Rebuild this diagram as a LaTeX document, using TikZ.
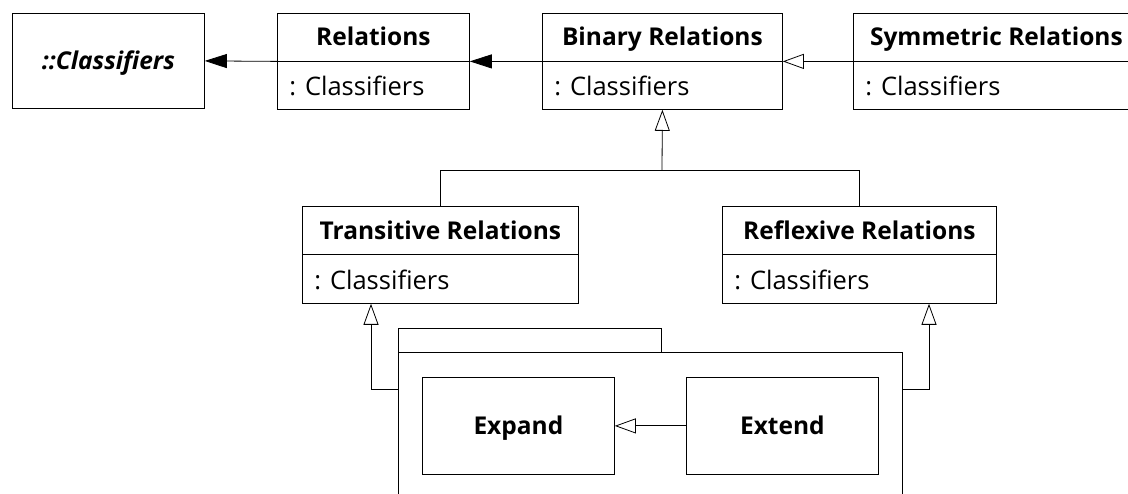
\documentclass[tikz,border=0pt]{standalone}
\usepackage{fontspec}
\setmainfont{Open Sans}
\usetikzlibrary{arrows.meta,calc}
\begin{document}
\begin{tikzpicture}[x=1pt,y=-1pt,
  every path/.style={line width=0.8pt},
  box/.style={draw, anchor=north west, inner sep=0pt, fill=white},
  ttl/.style={font=\fontsize{24.5}{28}\selectfont\bfseries, inner sep=0pt, text height=17.5pt, text depth=0pt},
  attr/.style={font=\fontsize{25.5}{28}\selectfont, inner sep=0pt, anchor=west, text height=18pt, text depth=0pt},
  gen/.style={-{Triangle[open,length=21pt,width=15pt]}},
  dep/.style={-{Triangle[length=22pt,width=14pt]}}]
\useasboundingbox (0,0) rectangle (1128,494);
% top row
\node[box, minimum width=192, minimum height=95] (cl) at (12,13) {};
\node[ttl, font=\fontsize{24.5}{28}\selectfont\bfseries\itshape] (clt) at (cl.center) {::Classifiers};
\node[box, minimum width=192, minimum height=96] (rel) at (277,13) {};
\node[box, minimum width=240, minimum height=96] (bin) at (542,13) {};
\node[box, minimum width=286, minimum height=96] (sym) at (853,13) {};
\node[box, minimum width=276, minimum height=97] (tr) at (302,206) {};
\node[box, minimum width=274, minimum height=97] (rf) at (722,206) {};
\foreach \n/\t in {rel/Relations, bin/Binary Relations, sym/Symmetric Relations, tr/Transitive Relations, rf/Reflexive Relations}{
  \draw (\n.west) -- (\n.east);
  \node[ttl] (\n-t) at ($(\n.north)!0.5!(\n.center)$) {\t};
  \node[attr] (\n-a) at ($(\n.west)!0.5!(\n.south west)+(12,1)$) {: Classifiers};
}
% package
\node[box, minimum width=263, minimum height=24] (tab) at (398,328) {};
\node[box, minimum width=504, minimum height=170] (pkg) at (398,352) {};
\node[box, minimum width=192, minimum height=97] (exp) at (422,377) {};
\node[ttl] (expt) at (exp.center) {Expand};
\node[box, minimum width=192, minimum height=97] (ext) at (686,377) {};
\node[ttl] (extt) at (ext.center) {Extend};
% connectors
\draw[dep] (rel.west) -- (cl.east);
\draw[dep] (bin.west) -- (rel.east);
\draw[gen] (sym.west) -- (bin.east);
\coordinate (j) at (662,170);
\draw (tr.north) |- (j);
\draw (rf.north) |- (j);
\draw[gen] (j) -- (bin.south);
\coordinate (lt) at (371,389);
\coordinate (rt) at (929,389);
\draw[gen] (pkg.west |- lt) -- (lt) -- (tr.south -| lt);
\draw[gen] (pkg.east |- rt) -- (rt) -- (rf.south -| rt);
\draw[gen] (ext.west) -- (exp.east);
\end{tikzpicture}
\end{document}
